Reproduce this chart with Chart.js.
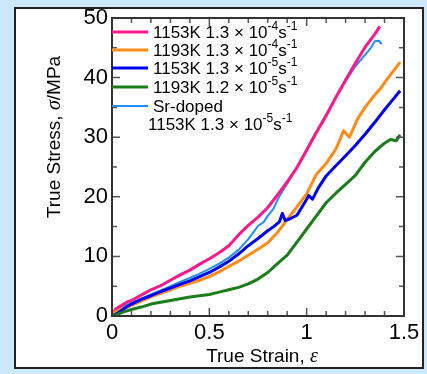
<!DOCTYPE html>
<html>
<head>
<meta charset="utf-8">
<script src="https://cdn.jsdelivr.net/npm/chart.js@4"></script>
<style>
html, body { margin: 0; padding: 0; background: #cde8fb; }
#panel { position: absolute; left: 14px; top: 7px; width: 406px; height: 358px; background: #fff; border: 2px solid #222; }
#wrap { position: absolute; left: 0; top: 0; width: 427px; height: 374px; }
</style>
</head>
<body>
<div id="panel"></div>
<div id="wrap"><canvas id="stressChart" width="427" height="374"></canvas></div>
<script>
// tick labels
const xTicks = [0, 0.5, 1, 1.5];
const xTickLabels = ['0', '0.5', '1', '1.5'];
const yTicks = [0, 10, 20, 30, 40, 50];
const yTickLabels = ['0', '10', '20', '30', '40', '50'];

// 1153K 1.3x10^-4 s^-1
const pinkStrain = [0, 0.02, 0.05, 0.08, 0.1, 0.15, 0.2, 0.25, 0.3, 0.35, 0.4, 0.45, 0.5, 0.55, 0.6, 0.65, 0.7, 0.75, 0.8, 0.85, 0.9, 0.95, 1.0, 1.05, 1.1, 1.15, 1.2, 1.25, 1.3, 1.35, 1.376];
const pinkStress = [0.3, 1.2, 1.8, 2.4, 2.6, 3.5, 4.4, 5.1, 6.0, 6.9, 7.7, 8.7, 9.6, 10.6, 11.8, 13.6, 15.2, 16.6, 18.2, 20.3, 22.5, 24.9, 27.8, 30.8, 33.6, 36.7, 39.6, 42.4, 45.1, 47.3, 48.6];

// 1193K 1.3x10^-4 s^-1
const orangeStrain = [0, 0.03, 0.06, 0.1, 0.15, 0.2, 0.25, 0.3, 0.35, 0.4, 0.45, 0.5, 0.55, 0.6, 0.65, 0.7, 0.75, 0.8, 0.85, 0.9, 0.95, 1.0, 1.05, 1.1, 1.15, 1.19, 1.22, 1.26, 1.3, 1.34, 1.38, 1.41, 1.45, 1.48];
const orangeStress = [0.4, 0.9, 1.3, 1.8, 2.5, 3.2, 3.8, 4.4, 5.0, 5.5, 6.0, 6.6, 7.4, 8.3, 9.2, 10.2, 11.2, 12.3, 14.0, 16.2, 18.3, 20.5, 23.8, 25.6, 28.0, 31.1, 30.0, 33.0, 35.0, 36.7, 38.2, 39.6, 41.3, 42.6];

// 1153K 1.3x10^-5 s^-1
const blueStrain = [0, 0.03, 0.06, 0.1, 0.15, 0.2, 0.25, 0.3, 0.35, 0.4, 0.45, 0.5, 0.55, 0.6, 0.65, 0.7, 0.75, 0.8, 0.83, 0.86, 0.875, 0.89, 0.92, 0.95, 0.98, 1.0, 1.01, 1.03, 1.06, 1.1, 1.15, 1.2, 1.25, 1.3, 1.35, 1.4, 1.45, 1.48];
const blueStress = [0, 0.5, 1.2, 2.0, 2.8, 3.4, 4.1, 4.7, 5.3, 5.9, 6.6, 7.3, 8.2, 9.2, 10.4, 11.8, 13.0, 14.3, 15.0, 15.8, 17.2, 16.0, 16.4, 16.9, 18.5, 19.6, 20.2, 19.6, 21.5, 23.5, 25.2, 26.9, 28.6, 30.5, 32.5, 34.6, 36.6, 37.8];

// 1193K 1.2x10^-5 s^-1
const greenStrain = [0, 0.03, 0.06, 0.1, 0.15, 0.2, 0.25, 0.3, 0.35, 0.4, 0.45, 0.5, 0.55, 0.6, 0.65, 0.7, 0.75, 0.8, 0.85, 0.9, 0.95, 1.0, 1.05, 1.1, 1.15, 1.2, 1.25, 1.3, 1.35, 1.4, 1.43, 1.46, 1.48];
const greenStress = [0, 0.3, 0.7, 1.1, 1.5, 2.0, 2.3, 2.6, 2.9, 3.2, 3.4, 3.6, 4.0, 4.4, 4.8, 5.4, 6.2, 7.3, 8.8, 10.2, 12.4, 14.6, 16.8, 19.0, 20.6, 22.1, 23.6, 25.8, 27.6, 29.0, 29.6, 29.4, 30.4];

// Sr-doped 1153K 1.3x10^-5 s^-1
const srStrain = [0, 0.03, 0.06, 0.1, 0.15, 0.2, 0.25, 0.3, 0.35, 0.4, 0.45, 0.5, 0.55, 0.6, 0.65, 0.7, 0.73, 0.75, 0.78, 0.8, 0.83, 0.85, 0.88, 0.9, 0.95, 1.0, 1.05, 1.1, 1.15, 1.2, 1.25, 1.3, 1.33, 1.35, 1.37, 1.385];
const srStress = [0.6, 1.3, 1.7, 2.2, 2.9, 3.6, 4.3, 5.0, 5.7, 6.4, 7.1, 7.9, 8.8, 9.8, 11.1, 12.9, 14.2, 15.1, 15.8, 16.8, 18.0, 19.5, 21.2, 22.2, 25.0, 28.0, 31.0, 33.8, 36.6, 39.4, 41.9, 43.8, 45.0, 46.1, 46.2, 45.6];

const seriesNames = ['1153K 1.3 × 10^-4^s^-1', '1193K 1.3 × 10^-4^s^-1', '1153K 1.3 × 10^-5^s^-1', '1193K 1.2 × 10^-5^s^-1', 'Sr-doped'];
const seriesColors = ['#ff1a8c', '#ff8c1a', '#0000f0', '#1a7d1a', '#1e8fff'];

function pts(xs, ys) {
    return xs.map((x, i) => ({ x: x, y: ys[i] }));
}

// 위첨자 있는 텍스트 그리기 (^ 사이가 위첨자)
function drawRich(ctx, text, x, y, size) {
    const parts = text.split('^');
    ctx.textBaseline = 'middle';
    ctx.textAlign = 'left';
    parts.forEach((p, i) => {
        if (i % 2 == 1) {
            ctx.font = Math.round(size * 0.68) + 'px "Liberation Sans", Arial, sans-serif';
            ctx.fillText(p, x, y - size * 0.38);
        } else {
            ctx.font = size + 'px "Liberation Sans", Arial, sans-serif';
            ctx.fillText(p, x, y);
        }
        x += ctx.measureText(p).width;
    });
}

function drawTitle(ctx, plain, greek, cont, size) {
    const f1 = size + 'px "Liberation Sans", Arial, sans-serif';
    const f2 = 'italic ' + (size + 1) + 'px "Liberation Serif", serif';
    ctx.font = f1; const w1 = ctx.measureText(plain).width; const w3 = ctx.measureText(cont).width;
    ctx.font = f2; const w2 = ctx.measureText(greek).width;
    let x = -(w1 + w2 + w3) / 2;
    ctx.textBaseline = 'middle';
    ctx.textAlign = 'left';
    ctx.font = f1; ctx.fillText(plain, x, 0); x += w1;
    ctx.font = f2; ctx.fillText(greek, x, 0); x += w2;
    ctx.font = f1; ctx.fillText(cont, x, 0);
}

const framePlugin = {
    id: 'frame',
    afterDraw(chart) {
        const ctx = chart.ctx;
        const a = chart.chartArea;
        const xs = chart.scales.x, ys = chart.scales.y;
        ctx.save();
        // ticks, inward on all sides
        ctx.strokeStyle = '#555';
        ctx.lineWidth = 1.5;
        ctx.beginPath();
        for (let i = 0; i <= 15; i++) {
            const px = xs.getPixelForValue(i / 10);
            const len = i % 5 == 0 ? 8 : 5;
            ctx.moveTo(px, a.bottom); ctx.lineTo(px, a.bottom - len);
            ctx.moveTo(px, a.top); ctx.lineTo(px, a.top + len);
        }
        for (let v = 0; v <= 50; v += 5) {
            const py = ys.getPixelForValue(v);
            const len = v % 10 == 0 ? 8 : 5;
            ctx.moveTo(a.left, py); ctx.lineTo(a.left + len, py);
            ctx.moveTo(a.right, py); ctx.lineTo(a.right - len, py);
        }
        ctx.stroke();
        ctx.strokeStyle = '#333';
        ctx.lineWidth = 2;
        ctx.strokeRect(a.left, a.top, a.right - a.left, a.bottom - a.top);

        // legend
        const rows = [32, 50, 68, 87, 106];
        ctx.lineCap = 'butt';
        rows.forEach((ry, i) => {
            ctx.strokeStyle = seriesColors[i];
            ctx.lineWidth = i == 4 ? 2 : 3;
            ctx.beginPath();
            ctx.moveTo(a.left, ry); ctx.lineTo(a.left + 36, ry);
            ctx.stroke();
            ctx.fillStyle = '#000';
            drawRich(ctx, seriesNames[i], a.left + 41, ry + 1, 17);
        });
        drawRich(ctx, '1153K 1.3 × 10^-5^s^-1', a.left + 36, 125, 17);

        // axis titles
        ctx.fillStyle = '#000';
        ctx.save();
        ctx.translate((a.left + a.right) / 2 + 4, 357);
        drawTitle(ctx, 'True Strain, ', 'ε', '', 19);
        ctx.restore();
        ctx.save();
        ctx.translate(55, 137);
        ctx.rotate(-Math.PI / 2);
        drawTitle(ctx, 'True Stress, ', 'σ', '/MPa', 19);
        ctx.restore();
        ctx.restore();
    }
};

const tickFont = { family: '"Liberation Sans", Arial, sans-serif', size: 22 };

new Chart(document.getElementById('stressChart').getContext('2d'), {
    type: 'line',
    data: {
        datasets: [
            { data: pts(greenStrain, greenStress), borderColor: seriesColors[3], borderWidth: 3 },
            { data: pts(blueStrain, blueStress), borderColor: seriesColors[2], borderWidth: 3 },
            { data: pts(orangeStrain, orangeStress), borderColor: seriesColors[1], borderWidth: 3 },
            { data: pts(pinkStrain, pinkStress), borderColor: seriesColors[0], borderWidth: 3 },
            { data: pts(srStrain, srStress), borderColor: seriesColors[4], borderWidth: 2 }
        ]
    },
    options: {
        responsive: false,
        animation: false,
        elements: { point: { radius: 0 }, line: { tension: 0, borderJoinStyle: 'round' } },
        layout: { padding: { top: 18, right: 23, left: 0, bottom: 0 } },
        plugins: { legend: { display: false }, tooltip: { enabled: false } },
        scales: {
            x: {
                type: 'linear', min: 0, max: 1.5,
                afterBuildTicks: s => { s.ticks = xTicks.map(v => ({ value: v })); },
                afterFit: s => { s.height = 58; },
                grid: { display: false, drawTicks: false },
                border: { display: false },
                ticks: { font: tickFont, color: '#000', padding: 4, maxRotation: 0,
                    callback: v => xTickLabels[xTicks.indexOf(v)] }
            },
            y: {
                type: 'linear', min: 0, max: 50,
                afterBuildTicks: s => { s.ticks = yTicks.map(v => ({ value: v })); },
                afterFit: s => { s.width = 112; },
                grid: { display: false, drawTicks: false },
                border: { display: false },
                ticks: { font: tickFont, color: '#000', padding: 4,
                    callback: v => yTickLabels[yTicks.indexOf(v)] }
            }
        }
    },
    plugins: [framePlugin]
});
</script>
</body>
</html>
